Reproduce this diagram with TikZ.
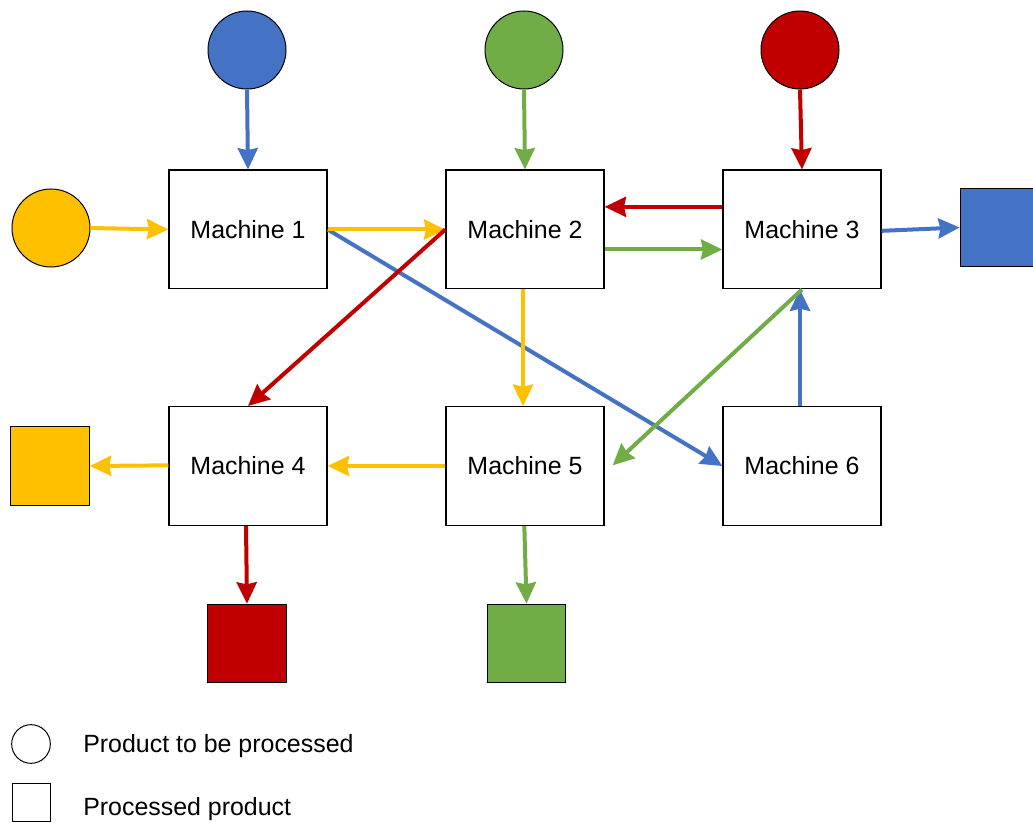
\documentclass[tikz,border=0pt]{standalone}
\usepackage{fontspec}
\setmainfont{Liberation Sans}
\usetikzlibrary{arrows.meta}
\definecolor{pblue}{HTML}{4472C4}
\definecolor{pgreen}{HTML}{70AD47}
\definecolor{pred}{HTML}{C00000}
\definecolor{pyellow}{HTML}{FFC000}
\begin{document}
\begin{tikzpicture}[x=0.75pt,y=-0.75pt,
  machine/.style={draw=black,line width=1pt,fill=white,minimum width=118.5pt,minimum height=89pt,inner sep=0pt,font=\fontsize{18.7}{22}\selectfont},
  rawpart/.style={circle,draw=black,line width=0.75pt,minimum size=58.5pt,inner sep=0pt},
  donepart/.style={rectangle,draw=black,line width=0.75pt,minimum size=59pt,inner sep=0pt},
  flow/.style={line width=3pt,-{Stealth[length=16pt,width=15pt,inset=1.5pt]}},
  legendtext/.style={anchor=west,inner sep=0pt,font=\fontsize{18.7}{22}\selectfont}]
\useasboundingbox (0,0) rectangle (1033,823);

% machines
\node[machine] (m1) at (248,229.5) {Machine 1};
\node[machine] (m2) at (525,229.5) {Machine 2};
\node[machine] (m3) at (802,229.5) {Machine 3};
\node[machine] (m4) at (248,466) {Machine 4};
\node[machine] (m5) at (525,466) {Machine 5};
\node[machine] (m6) at (802,466) {Machine 6};

% raw products
\node[rawpart,fill=pblue] (cb) at (247,50) {};
\node[rawpart,fill=pgreen] (cg) at (524,50) {};
\node[rawpart,fill=pred] (cr) at (800,50) {};
\node[rawpart,fill=pyellow] (cy) at (51,228) {};

% finished products
\node[donepart,fill=pblue] (sb) at (999.5,227.5) {};
\node[donepart,fill=pyellow] (sy) at (50,466) {};
\node[donepart,fill=pred] (sr) at (247,643.5) {};
\node[donepart,fill=pgreen] (sg) at (526.5,643.5) {};

% blue route
\draw[flow,pblue] (cb.south) -- (m1.north);
\draw[flow,pblue] (m1.east) -- (m6.west);
\draw[flow,pblue] ([xshift=-1.5pt]m6.north) -- ([xshift=-1.5pt]m3.south);
\draw[flow,pblue] ([yshift=-1pt]m3.east) -- (sb.west);

% yellow route
\draw[flow,pyellow] (cy.east) -- (m1.west);
\draw[flow,pyellow] (m1.east) -- (m2.west);
\draw[flow,pyellow] ([xshift=-1.5pt]m2.south) -- ([xshift=-1.5pt]m5.north);
\draw[flow,pyellow] (m5.west) -- (m4.west -| m4.east);
\draw[flow,pyellow] ([yshift=0.5pt]m4.west) -- (sy.east);

% green route
\draw[flow,pgreen] (cg.south) -- (m2.north);
\draw[flow,pgreen] ([yshift=-15pt]m2.east) -- ([yshift=-15pt]m3.west);
\draw[flow,pgreen] (m3.south) -- ([xshift=6pt,yshift=0.5pt]m5.east);
\draw[flow,pgreen] ([xshift=-0.5pt]m5.south) -- (sg.north);

% red route
\draw[flow,pred] (cr.south) -- (m3.north);
\draw[flow,pred] ([yshift=17pt]m3.west) -- ([yshift=17pt]m2.east);
\draw[flow,pred] (m2.west) -- (m4.north);
\draw[flow,pred] ([xshift=-1.5pt]m4.south) -- (sr.north);

% legend
\node[rawpart,minimum size=29pt,fill=white] (lc) at (31,744) {};
\node[donepart,minimum size=29pt,fill=white] (ls) at (31.5,802.5) {};
\node[legendtext] (lct) at (83,746) {Product to be processed};
\node[legendtext] (lst) at (83,809) {Processed product};
\end{tikzpicture}
\end{document}
